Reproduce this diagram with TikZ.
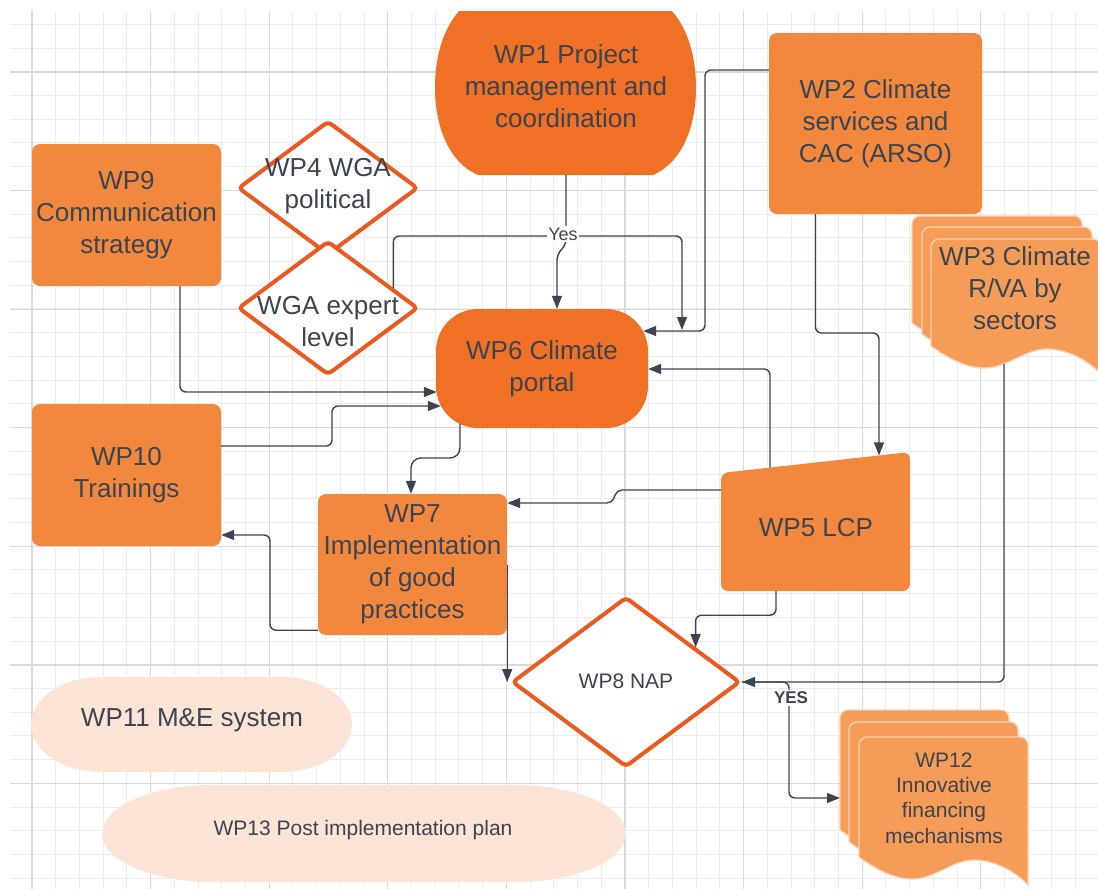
\documentclass[tikz,border=0pt]{standalone}
\usepackage{fontspec}
\setmainfont{Liberation Sans}
\usetikzlibrary{arrows.meta,shapes.geometric,calc}

\definecolor{gridminor}{HTML}{ECECEC}
\definecolor{gridmajor}{HTML}{DADADA}
\definecolor{orangedark}{HTML}{F07126}
\definecolor{orangemid}{HTML}{F2883D}
\definecolor{orangelight}{HTML}{F59C58}
\definecolor{peach}{HTML}{FCE4D6}
\definecolor{diaedge}{HTML}{EB5A20}
\definecolor{linecol}{HTML}{3C4452}
\definecolor{txtcol}{HTML}{3D4451}

\tikzset{
  wptext/.style={text=txtcol, align=center, inner sep=0pt, font=\fontsize{26}{32}\selectfont},
  smalltext/.style={wptext, font=\fontsize{21}{25.3}\selectfont},
  box/.style={wptext, fill=orangemid, rounded corners=8pt},
  dia/.style={diamond, draw=diaedge, line width=4pt, fill=white, rounded corners=4pt, inner sep=0pt},
  conn/.style={draw=linecol, line width=1.4pt, rounded corners=6pt, -{Triangle[length=13pt,width=10pt]}},
  lbl/.style={fill=white, text=txtcol, inner sep=1.5pt, font=\fontsize{18}{20}\selectfont},
  docsty/.style={fill=orangelight, draw=white!55!orangelight, line width=1.3pt},
  gridthin/.style={draw=gridminor, line width=1pt},
  gridthick/.style={draw=gridmajor, line width=1.1pt}
}

% one sheet of a stacked document: left x, top y, width, height of the left edge
\newcommand{\docsheet}[4]{%
  \path[docsty] (#1,{#2+#4}) -- (#1,{#2+8})
    .. controls (#1,{#2+3.6}) and ({#1+3.6},#2) .. ({#1+8},#2)
    -- ({#1+#3-8},#2)
    .. controls ({#1+#3-3.6},#2) and ({#1+#3},{#2+3.6}) .. ({#1+#3},{#2+8})
    -- ({#1+#3},{#2+#4+28})
    .. controls ({#1+0.92*#3},{#2+#4+14}) and ({#1+0.8*#3},{#2+#4+3}) .. ({#1+0.68*#3},{#2+#4+3})
    .. controls ({#1+0.56*#3},{#2+#4+3}) and ({#1+0.44*#3},{#2+#4+22}) .. ({#1+0.32*#3},{#2+#4+22})
    .. controls ({#1+0.2*#3},{#2+#4+22}) and ({#1+0.1*#3},{#2+#4+12}) .. (#1,{#2+#4}) -- cycle;}

\begin{document}
\begin{tikzpicture}[x=1pt,y=-1pt]
\useasboundingbox (0,0) rectangle (1098,889);
\fill[white] (0,0) rectangle (1098,889);
\begin{scope}
\clip (10,11) rectangle (1098,889);

% drawing grid
\foreach \i in {0,...,45} \draw[gridthin] ({32+\i*23.72},11) -- ({32+\i*23.72},889);
\foreach \j in {0,...,36} \draw[gridthin] (10,{24.28+\j*23.72}) -- (1098,{24.28+\j*23.72});
\foreach \i in {0,...,9} \draw[gridthick] ({32+\i*118.6},11) -- ({32+\i*118.6},889);
\foreach \j in {0,...,6} \draw[gridthick] (10,{72+\j*118.6}) -- (1098,{72+\j*118.6});

% WP1
\fill[orangedark] (472,0) .. controls (447,16) and (435,50) .. (435,88)
  .. controls (435,125) and (448,162) .. (478,175) -- (653,175)
  .. controls (683,162) and (696,125) .. (696,88)
  .. controls (696,50) and (684,16) .. (659,0) -- cycle;
\node[wptext] (wp1) at (566,86) {WP1 Project\\management and\\coordination};

% rectangular work packages
\node[box, minimum width=213, minimum height=181] (wp2) at (875.5,123.5) {WP2 Climate\\services and\\CAC (ARSO)};
\node[box, minimum width=189, minimum height=142] (wp9) at (126.5,215) {WP9\\Communication\\strategy};
\node[box, minimum width=189, minimum height=142] (wp10) at (126.5,475) {WP10\\Trainings};
\node[box, minimum width=189, minimum height=141] (wp7) at (412.5,564.5) {WP7\\Implementation\\of good\\practices};

% WP6
\node[wptext, fill=orangedark, rounded corners=42pt, minimum width=212, minimum height=119] (wp6) at (542,368.5) {WP6 Climate\\portal};

% decision diamonds
\node[dia, minimum width=180, minimum height=134] (wp4) at (328,188) {};
\node[wptext] (wp4t) at (328,186) {WP4 WGA\\political};
\node[dia, minimum width=180, minimum height=134] (wga) at (328,308) {};
\node[wptext] (wgat) at (328,322) {WGA expert\\level};
\node[dia, minimum width=228, minimum height=170] (wp8) at (626,682) {};
\node[smalltext] (wp8t) at (626,681) {WP8 NAP};

% WP5 (manual input)
\fill[orangemid, rounded corners=7pt] (721,473) -- (910,452) -- (910,591) -- (721,591) -- cycle;
\node[wptext] (wp5) at (816,528) {WP5 LCP};

% WP3 stacked documents
\docsheet{912}{216}{170}{107}
\docsheet{922}{227}{170}{107}
\docsheet{931}{239}{170}{107}
\node[wptext] (wp3) at (1015,288) {WP3 Climate\\R/VA by\\sectors};

% WP12 stacked documents
\docsheet{840}{710}{169}{120}
\docsheet{849}{722}{169}{120}
\docsheet{859}{737}{169}{120}
\node[smalltext] (wp12) at (944,798) {WP12\\Innovative\\financing\\mechanisms};

% WP11 and WP13 pills
\fill[peach] (101,677) -- (282,677) .. controls (320.6,677) and (352,698.3) .. (352,724.5)
  .. controls (352,750.7) and (320.6,772) .. (282,772) -- (101,772)
  .. controls (62.4,772) and (31,750.7) .. (31,724.5)
  .. controls (31,698.3) and (62.4,677) .. (101,677) -- cycle;
\node[wptext] (wp11) at (192,720) {WP11 M\&E system};
\fill[peach] (212,785) -- (516,785) .. controls (576.7,785) and (626,806.8) .. (626,833.5)
  .. controls (626,860.2) and (576.7,882) .. (516,882) -- (212,882)
  .. controls (151.3,882) and (102,860.2) .. (102,833.5)
  .. controls (102,806.8) and (151.3,785) .. (212,785) -- cycle;
\node[wptext, font=\fontsize{21}{25}\selectfont] (wp13) at (363,830) {WP13 Post implementation plan};

% connector ports on drawn shapes
\coordinate (wp1s) at (566,175);
\coordinate (wp5w) at (721,490);
\coordinate (wp5n1) at (770,467.6);
\coordinate (wp5n2) at (879,455.4);
\coordinate (wp5s) at (776,591);
\coordinate (wp3s) at (1004,364);
\coordinate (wp12w) at (840,798);
\coordinate (yesend) at (682,330);

% connectors
\draw[conn] (wp1s) -- (566,245) -- (557,254) -- ($(wp6.north)+(15,0)$);
\draw[conn] ($(wga.north east)!0.42!(wga.east)$) |- (682,236) -- (yesend);
\draw[conn] ($(wp2.west)+(0,-53.5)$) -| (705,331) -- ($(wp6.east)+(-5,-37.5)$);
\draw[conn] ($(wp9.south)+(53.5,0)$) |- ($(wp6.west)+(1,23.5)$);
\draw[conn] ($(wp10.east)+(0,-29)$) -- (332,446) |- ($(wp6.west)+(5,37.5)$);
\draw[conn, rounded corners=10pt] ($(wp6.south)+(-82,-4.5)$) -- (460,458) -| ($(wp7.north)+(-1.5,0)$);
\draw[conn, rounded corners=5pt] (wp5w) -- (617,490) -- (612,503) -- ($(wp7.east)+(0,-61.5)$);
\draw[conn] (wp5n1) |- ($(wp6.east)+(0,0.5)$);
\draw[conn] ($(wp2.south)+(-60,0)$) |- (879,333) -- (wp5n2);
\draw[conn] (wp5s) |- ($(wp8.north)!0.6!(wp8.east)+(0,-32)$) -- ($(wp8.north)!0.6!(wp8.east)$);
\draw[conn] (wp7.east) -- (wp7.east |- wp8.west);
\draw[conn] ($(wp7.south west)+(0,-5)$) -| (270,535) -- ($(wp10.east)+(0,60)$);
\draw[conn] (wp3s) |- (wp8.east);
\draw[conn] (wp8.east) -- (789,682) |- (wp12w);

% connector labels
\node[lbl] (yes1) at (563,234) {Yes};
\node[lbl, font=\bfseries\fontsize{17}{20}\selectfont] (yes2) at (791,698) {YES};
\end{scope}
\end{tikzpicture}
\end{document}
